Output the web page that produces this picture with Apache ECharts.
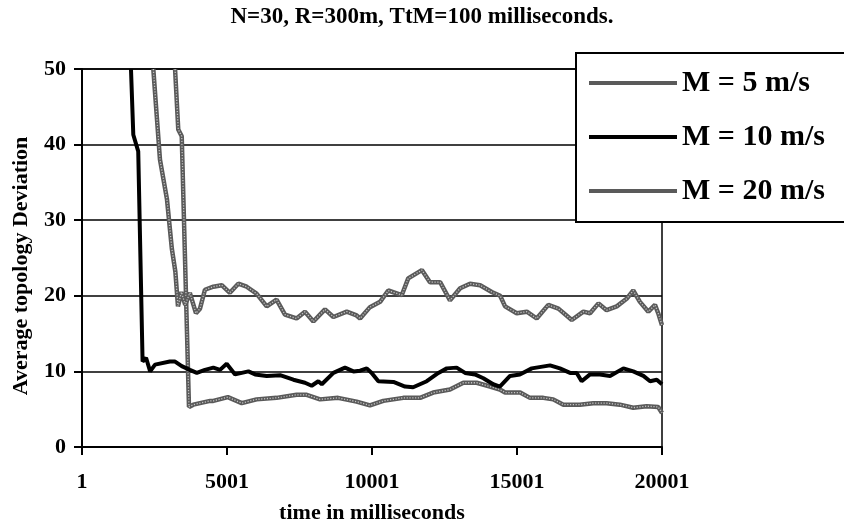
<!DOCTYPE html>
<html>
<head>
<meta charset="utf-8">
<title></title>
<script src="https://cdn.jsdelivr.net/npm/echarts@6.0.0/dist/echarts.min.js"></script>
<style>
  html, body { margin: 0; padding: 0; background: #fff; }
  #main { width: 844px; height: 529px; }
</style>
</head>
<body>
<div id="main"></div>
<script>
// time in milliseconds / average topology deviation
var timeM5 = [3210, 3320, 3440, 3690, 3840, 4070, 4420, 4530, 5030, 5510,
  6020, 6710, 7400, 7750, 8210, 8830, 9470, 9930, 10390, 11080,
  11660, 12110, 12690, 13150, 13610, 14070, 14410, 14590, 15110, 15450,
  15910, 16250, 16600, 17170, 17630, 18090, 18550, 19010, 19470, 19870, 20001];
var valueM5 = [50, 42.0, 41.1, 5.3, 5.6, 5.8, 6.1, 6.1, 6.6, 5.8,
  6.3, 6.5, 6.9, 6.9, 6.3, 6.5, 6.0, 5.5, 6.1, 6.5,
  6.5, 7.2, 7.6, 8.5, 8.5, 8.0, 7.6, 7.2, 7.2, 6.5,
  6.5, 6.3, 5.6, 5.6, 5.8, 5.8, 5.6, 5.2, 5.4, 5.3, 4.5];

var timeM10 = [1690, 1770, 1940, 2090, 2210, 2350, 2520, 3030, 3210, 3440,
  3720, 3960, 4240, 4530, 4760, 4990, 5280, 5740, 5970, 6370,
  6830, 7290, 7690, 7920, 8150, 8270, 8670, 9070, 9360, 9590,
  9820, 9990, 10220, 10740, 11140, 11420, 11890, 12290, 12580, 12920,
  13210, 13550, 13840, 14180, 14410, 14760, 15100, 15510, 16140, 16480,
  16830, 17060, 17230, 17520, 17860, 18210, 18670, 19010, 19360, 19590,
  19820, 20001];
var valueM10 = [50, 41.3, 39.1, 11.3, 11.8, 10.0, 10.9, 11.3, 11.3, 10.7,
  10.2, 9.8, 10.2, 10.5, 10.2, 11.0, 9.6, 10.0, 9.6, 9.4,
  9.5, 8.9, 8.5, 8.1, 8.7, 8.3, 9.8, 10.5, 10.0, 10.1,
  10.4, 9.8, 8.7, 8.6, 8.0, 7.9, 8.7, 9.8, 10.4, 10.5,
  9.8, 9.6, 9.1, 8.3, 8.0, 9.4, 9.6, 10.4, 10.8, 10.4,
  9.8, 9.8, 8.7, 9.6, 9.6, 9.4, 10.4, 10.0, 9.4, 8.7,
  8.9, 8.3];

var timeM20 = [2460, 2580, 2690, 2930, 3100, 3220, 3310, 3430, 3560, 3720,
  3930, 4070, 4240, 4530, 4820, 5100, 5390, 5680, 6020, 6370,
  6710, 7000, 7400, 7690, 7980, 8380, 8670, 9130, 9470, 9590,
  9930, 10280, 10560, 11030, 11250, 11720, 12000, 12350, 12690, 13040,
  13380, 13730, 14130, 14420, 14590, 14990, 15340, 15680, 16080, 16430,
  16890, 17290, 17520, 17810, 18090, 18440, 18780, 19010, 19240, 19530,
  19760, 19870, 20001];
var valueM20 = [50, 43.7, 38.0, 32.8, 26.2, 23.2, 18.6, 20.5, 18.8, 20.4,
  17.7, 18.3, 20.8, 21.2, 21.4, 20.4, 21.6, 21.2, 20.3, 18.6,
  19.5, 17.5, 17.0, 17.9, 16.6, 18.2, 17.2, 17.9, 17.4, 17.0,
  18.5, 19.2, 20.7, 20.1, 22.3, 23.4, 21.8, 21.8, 19.4, 21.0,
  21.6, 21.4, 20.5, 20.0, 18.6, 17.7, 17.9, 17.0, 18.8, 18.3,
  16.8, 17.9, 17.7, 19.0, 18.1, 18.6, 19.6, 20.7, 19.2, 17.9,
  18.8, 17.7, 16.1];

var seriesNames = ['M = 5 m/s', 'M = 10 m/s', 'M = 20 m/s'];

var font = 'Liberation Serif';
var myChart = echarts.init(document.getElementById('main'));

function pairs(t, v) {
  return t.map(function (x, i) { return [x, v[i]]; });
}

function greyLine(name, data) {
  return [{
    name: name, type: 'line', data: data, symbol: 'none',
    itemStyle: { color: '#5a5a5a' },
    lineStyle: { color: '#5a5a5a', width: 4.5 }
  }, {
    // light stitches on top of the grey line
    name: name + ' ', type: 'line', data: data, symbol: 'none', silent: true,
    lineStyle: { color: '#c4c4c4', width: 1.3, type: [1.2, 1.6] }
  }];
}

var m5 = pairs(timeM5, valueM5);
var m10 = pairs(timeM10, valueM10);
var m20 = pairs(timeM20, valueM20);

var series = [].concat(
  greyLine(seriesNames[0], m5),
  [{ name: seriesNames[1], type: 'line', data: m10, symbol: 'none',
     itemStyle: { color: '#000' },
     lineStyle: { color: '#000', width: 4 } }],
  greyLine(seriesNames[2], m20)
);

var labelStyle = { fontFamily: font, fontWeight: 'bold', fontSize: 22, color: '#000' };

var option = {
  backgroundColor: '#fff',
  animation: false,
  textStyle: { fontFamily: font, fontWeight: 'bold', color: '#000' },
  title: {
    text: 'N=30, R=300m, TtM=100 milliseconds.',
    left: 'center', top: 6, padding: 0,
    textStyle: { fontFamily: font, fontWeight: 'bold', fontSize: 23, color: '#000' }
  },
  grid: { left: 82, right: 182, top: 69, bottom: 80, show: true, borderColor: '#000', borderWidth: 1.5 },
  xAxis: {
    type: 'value', min: 1, max: 20001, interval: 5000,
    name: 'time in milliseconds', nameLocation: 'middle', nameGap: 55,
    nameTextStyle: labelStyle,
    axisLine: { lineStyle: { color: '#000', width: 2 } },
    axisTick: { length: 8, lineStyle: { color: '#000', width: 2 } },
    axisLabel: Object.assign({ margin: 24, formatter: function (v) { return String(v); } }, labelStyle),
    splitLine: { show: false }
  },
  yAxis: {
    type: 'value', min: 0, max: 50, interval: 10,
    name: 'Average topology Deviation', nameLocation: 'middle', nameGap: 50,
    nameTextStyle: Object.assign({ padding: [0, 16, 0, 0] }, labelStyle),
    axisLine: { show: true, lineStyle: { color: '#000', width: 2 } },
    axisTick: { show: true, length: 8, lineStyle: { color: '#000', width: 2 } },
    axisLabel: Object.assign({ margin: 16 }, labelStyle),
    splitLine: { show: true, lineStyle: { color: '#000', width: 1.5 } }
  },
  graphic: [{
    type: 'rect', left: 575, top: 52, z: 100,
    shape: { width: 290, height: 169 },
    style: { fill: '#fff', stroke: '#000', lineWidth: 2 }
  }],
  legend: {
    orient: 'vertical', left: 587, top: 68, padding: 0, z: 101,
    itemWidth: 88, itemHeight: 20, itemGap: 24,
    itemStyle: { opacity: 0 },
    lineStyle: { width: 4 },
    data: seriesNames,
    textStyle: { fontFamily: font, fontWeight: 'bold', fontSize: 30, lineHeight: 30, color: '#000' }
  },
  series: series
};
myChart.setOption(option);
</script>
</body>
</html>
